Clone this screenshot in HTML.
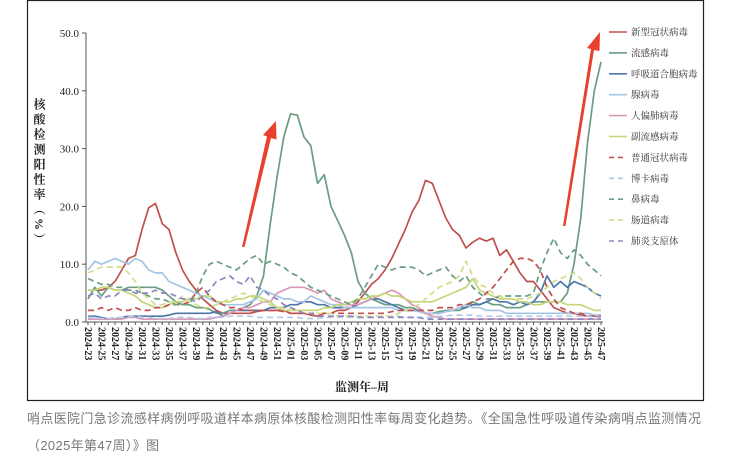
<!DOCTYPE html>
<html><head><meta charset="utf-8"><style>
body{margin:0;background:#fff;width:730px;height:459px;overflow:hidden;position:relative;font-family:"Liberation Serif","Noto Serif CJK SC",serif}
#ytitle{position:absolute;left:31px;top:98px;writing-mode:vertical-rl;font-size:12px;font-weight:bold;letter-spacing:3px;color:#222}
.cap{position:absolute;left:27px;font-family:"Liberation Sans","Noto Sans CJK SC",sans-serif;font-size:13px;letter-spacing:0.35px;color:#777;white-space:nowrap}
</style></head><body>
<svg id="chart" width="730" height="459" style="position:absolute;left:0;top:0" xmlns="http://www.w3.org/2000/svg">
<rect x="27.5" y="0.5" width="676" height="400" fill="none" stroke="#222" stroke-width="1.2"/>
<g id="grid"></g><g id="series"></g><g id="axes"></g><g id="legend"></g>
<polygon points="242,247 244.5,247 271,138 276.5,139.5 276,121 263,135 267,136.5" fill="#e8412f"/>
<polygon points="563,226 565.5,226 594,50 599.5,51 600,32 587,48 591,49" fill="#e8412f"/>
<text x="362" y="391" text-anchor="middle" font-size="12" font-weight="bold" fill="#222">监测年–周</text>
</svg>
<div id="ytitle">核酸检测阳性率（%）</div>
<div class="cap" style="top:408px">哨点医院门急诊流感样病例呼吸道样本病原体核酸检测阳性率每周变化趋势。《全国急性呼吸道传染病哨点监测情况</div>
<div class="cap" style="top:435px">（2025年第47周）》图</div>
<script>
const weeks=[];for(let w=23;w<=52;w++)weeks.push('2024-'+w);for(let w=1;w<=47;w++)weeks.push('2025-'+String(w).padStart(2,'0'));
const yTicks=[0,10,20,30,40,50];
const covid=[5.5,5.5,5.5,6,7,9,11,11.5,16,19.8, 20.5,17,16,12,9,7,5.5,4,3,2, 1.5,1.5,1.5,1.5,1.5,1.8,2,2,2,2, 1.5,1.5,1.5,1.2,1,1.5,1.5,2,2,2.5, 3.5,5,6.5,7.5,9,11,13.5,16,19,21, 24.5,24,21,18,16,15,12.8,13.8,14.5,14, 14.5,11.5,12.5,10.5,8.5,7,7,5.5,4,2.5, 2,1.5,1.5,1.2,1,1,1];
const flu=[4,6,4.5,6,5.5,5.5,6,6,6,6, 6,5.5,4.5,3.5,3,3,2.5,2.5,2.2,1.5, 1.5,2,2,2.5,3,4.5,8,17,25,32, 36,35.8,32,30.5,24,25.5,20,17.5,15,12, 7,5,4,3.5,3,3,3,2.5,2.5,2, 1.5,1.5,1.8,2,2,2,2.5,3.5,3,3.5, 3,3,2.5,2.5,2.5,3,3.5,3.5,3.5,3.5, 3.5,5,10,18,31,40,45];
const rsv=[1,1,0.8,0.5,0.5,0.8,1,1,1,1, 1,1,1.2,1.5,1.5,1.5,1.5,1.5,1.5,1.8, 1,1.5,2,2,2,2,2,2.5,2.5,2.5, 3,3,3.5,3.5,3,3,2.5,2.5,2.5,2.5, 3,3.5,4,4,3.5,3,2.5,2,2,2, 1.5,1.5,1.5,1.8,2,2.5,2.5,3,3,3.5, 4,3.5,3.5,3,3.5,3,3.5,5,8,6, 7,6,7,6.5,6,5,4.5];
const adeno=[9,10.5,10,10.5,11,10.5,10,11,10.5,9, 8.5,8.5,7,6.5,6,5.5,5,4.5,4,3.5, 3,3,3,3,3.5,4,5.5,5,4.5,4, 4,3.5,3.5,4.5,4,3.5,3,3,2.5,2.5, 2.5,2.5,2.5,2.5,2.5,2.5,2,2,2,1.8, 1.5,1.5,1.5,1.8,2,2.5,3,2.5,2.5,2, 2,2,1.5,1.5,1.5,1.5,1.5,1.5,1.5,1.5, 1.5,1.5,1.5,1.5,1.5,1.2,1.2];
const hmpv=[0.5,0.5,0.5,0.5,0.5,0.5,0.8,0.8,0.5,0.5, 0.5,0.5,0.5,0.5,0.5,0.5,0.5,0.5,0.5,0.8, 1,1.5,2,2.5,2.5,3,3.5,3.5,5,5.5, 6,6,6,5.5,5,5.5,4,3.5,3,3, 3,3.5,4,4.5,5,5.5,5,4,3,2.5, 1.5,1,0.8,0.5,0.5,0.5,0.5,0.5,0.5,0.5, 0.5,0.5,0.5,0.5,0.5,0.5,0.5,0.5,0.5,0.5, 0.5,0.5,0.5,0.5,0.5,0.5,0.5];
const para=[5.5,5.5,6,6,5.5,5.5,5,4.5,3.5,3, 2.5,2.5,3,3.5,3.5,4,4,4.5,4.5,3.5, 3.5,3.5,4,4,4.5,4.5,4,3.5,2.5,2, 2,2,2,2,2,2.5,2.5,3,3,3.5, 4,4,4.5,4.5,5,4.5,4.5,4,3.5,3.5, 3.5,3.5,4,4.5,5,5.5,6,7.5,5.5,5, 4.5,4,4,4,3.5,3.5,3,3,3.5,3.5, 3.5,3,3,3,2.5,2,2];
const corona=[2,2,2.5,2,2.5,2,2,2.5,2,2, 2.5,2.5,3,3,3,3.5,5,6,4.5,3.5, 3,2.5,2.5,2,2,2,2,2,2,1.8, 1.5,1.5,1.5,1.5,1.5,1.5,1.5,1.5,1.5,1.5, 1.5,1.5,1.5,1.5,1.5,1.8,2,2,2,2, 2,2,2.5,2.5,2.5,3,3,3.5,4,5, 6,7.5,9,10.5,11,11,10.5,9,6,4, 2.5,2,1.5,1.5,1,1,1];
const boca=[0.8,0.8,0.6,0.6,0.8,0.8,1,1,0.8,0.8, 0.6,0.6,0.6,0.8,0.8,0.8,0.6,0.6,0.8,0.8, 0.8,1,1,1,1,0.8,0.8,0.8,0.8,0.8, 0.8,0.8,0.6,0.6,0.6,0.8,0.8,0.8,0.8,0.8, 0.8,0.8,0.8,1,1,1,1,0.8,0.8,0.8, 0.8,0.8,1,1,1.2,1.2,1.2,1.2,1,1, 1,1,1,1,1,1,1,1,1,1, 1,1,1,1,1,0.8,0.8];
const rhino=[7.5,7,6.5,6.5,6,6,5.5,5.5,5,4.5, 4,4,3.5,3,3,3,5,8,10,10.5, 10,9.5,9,10,11,11.5,10,10.5,10,9.5, 8.5,8,7,6,5.5,5,4.5,4,3.5,3, 4,6,8,10,9.5,9,9.5,9.5,9.5,9, 8,8.5,9,9.5,8,7,8,6,5,4, 4,4.5,4.5,4.5,4.5,4.5,5,9,12,14.5, 12,11,12.5,11.5,10,9,8];
const entero=[8.5,9,9.5,9.5,9.5,9.5,8.5,7,5,4, 3,3,3.5,3.5,4.5,3.5,3,2.5,2.5,3, 3.5,4,4.5,5,4.5,4,3.5,3,2.5,2.5, 2,2,1.5,1.5,1.5,1.5,1.5,1,1,1, 1,1,1,1,1,1,1.5,2,2.5,3, 4,5,6,6.5,7,8,10.5,8,6.5,6, 5,4.5,4,4,4,4,4.5,5,6,7, 7.5,8,8.5,7.5,6,5,4];
const myco=[4.5,5,4,4.5,4.5,5.5,5.5,5,5,5, 5.5,5,5,4.5,4,4,3.5,4.5,5.5,7, 7.5,8,7,6.5,8,6,5.5,4.5,4,3, 2.5,2,1.5,1.5,1,1,1,1,1,1, 0.8,0.8,0.8,0.8,0.8,0.8,0.8,0.8,0.8,0.8, 0.5,0.5,0.5,0.5,0.5,0.5,0.5,0.5,0.5,0.5, 0.5,0.5,0.5,0.5,0.5,0.5,0.5,0.5,0.5,0.5, 0.5,0.5,0.5,0.5,0.5,0.5,0.5];
const seriesNames=['新型冠状病毒','流感病毒','呼吸道合胞病毒','腺病毒','人偏肺病毒','副流感病毒','普通冠状病毒','博卡病毒','鼻病毒','肠道病毒','肺炎支原体'];
const seriesData=[covid,flu,rsv,adeno,hmpv,para,corona,boca,rhino,entero,myco];
const seriesKeys=['covid','flu','rsv','adeno','hmpv','para','corona','boca','rhino','entero','myco'];
const colors=['#c0504d','#6a9d82','#4f77aa','#a6c4e3','#d99ab8','#c4d57a','#c0504d','#b4cbe8','#6a9d82','#d4dc8a','#8e86c0'];
const dashed=[false,false,false,false,false,false,true,true,true,true,true];

const NS='http://www.w3.org/2000/svg';
const X0=88,X1=601,Y0=322,Y1=33,YMAX=50;
const xs=i=>X0+i*(X1-X0)/(weeks.length-1);
const ys=v=>Y0-v*(Y0-Y1)/YMAX;
function mk(t,a,p){const e=document.createElementNS(NS,t);for(const k in a)e.setAttribute(k,a[k]);p.appendChild(e);return e;}
const axes=document.getElementById('axes'),ser=document.getElementById('series'),leg=document.getElementById('legend');
let yl=mk('line',{x1:86,y1:Y1,x2:86,y2:Y0,stroke:'#555','stroke-width':1},axes);


let xl=mk('line',{x1:86,y1:Y0,x2:X1+2,y2:Y0,stroke:'#555','stroke-width':1},axes);


yTicks.forEach(v=>{
  mk('line',{x1:82,y1:ys(v),x2:86,y2:ys(v),stroke:'#555'},axes);
  const t=mk('text',{x:79,y:ys(v)+4,'text-anchor':'end','font-size':11,fill:'#222'},axes);
  
  
  t.textContent=v.toFixed(1);
});
weeks.forEach((w,i)=>{
  mk('line',{x1:xs(i),y1:Y0,x2:xs(i),y2:Y0+3,stroke:'#555'},axes);
  if(i%2===0){
    const t=mk('text',{x:0,y:0,transform:`translate(${xs(i)-3},${Y0+5}) rotate(90)`,'font-size':10,fill:'#222','font-weight':'bold'},axes);
    
    
    t.textContent=w;
  }
});
seriesData.forEach((d,s)=>{
  const pts=d.map((v,i)=>xs(i).toFixed(1)+','+ys(v).toFixed(1)).join(' ');
  const p=mk('polyline',{points:pts,fill:'none',stroke:colors[s],'stroke-width':1.7,'stroke-linejoin':'round'},ser);
  if(dashed[s])p.setAttribute('stroke-dasharray','6,4');
  
  
  const ly=32+s*20.9;
  const g=mk('g',{},leg);
  
  
  const l=mk('line',{x1:609,y1:ly,x2:627,y2:ly,stroke:colors[s],'stroke-width':1.6},g);
  if(dashed[s])l.setAttribute('stroke-dasharray','5,4');
  const t=mk('text',{x:631,y:ly+3.5,'font-size':9.5,fill:'#333'},g);
  t.textContent=seriesNames[s];
});
</script>
</body></html>
